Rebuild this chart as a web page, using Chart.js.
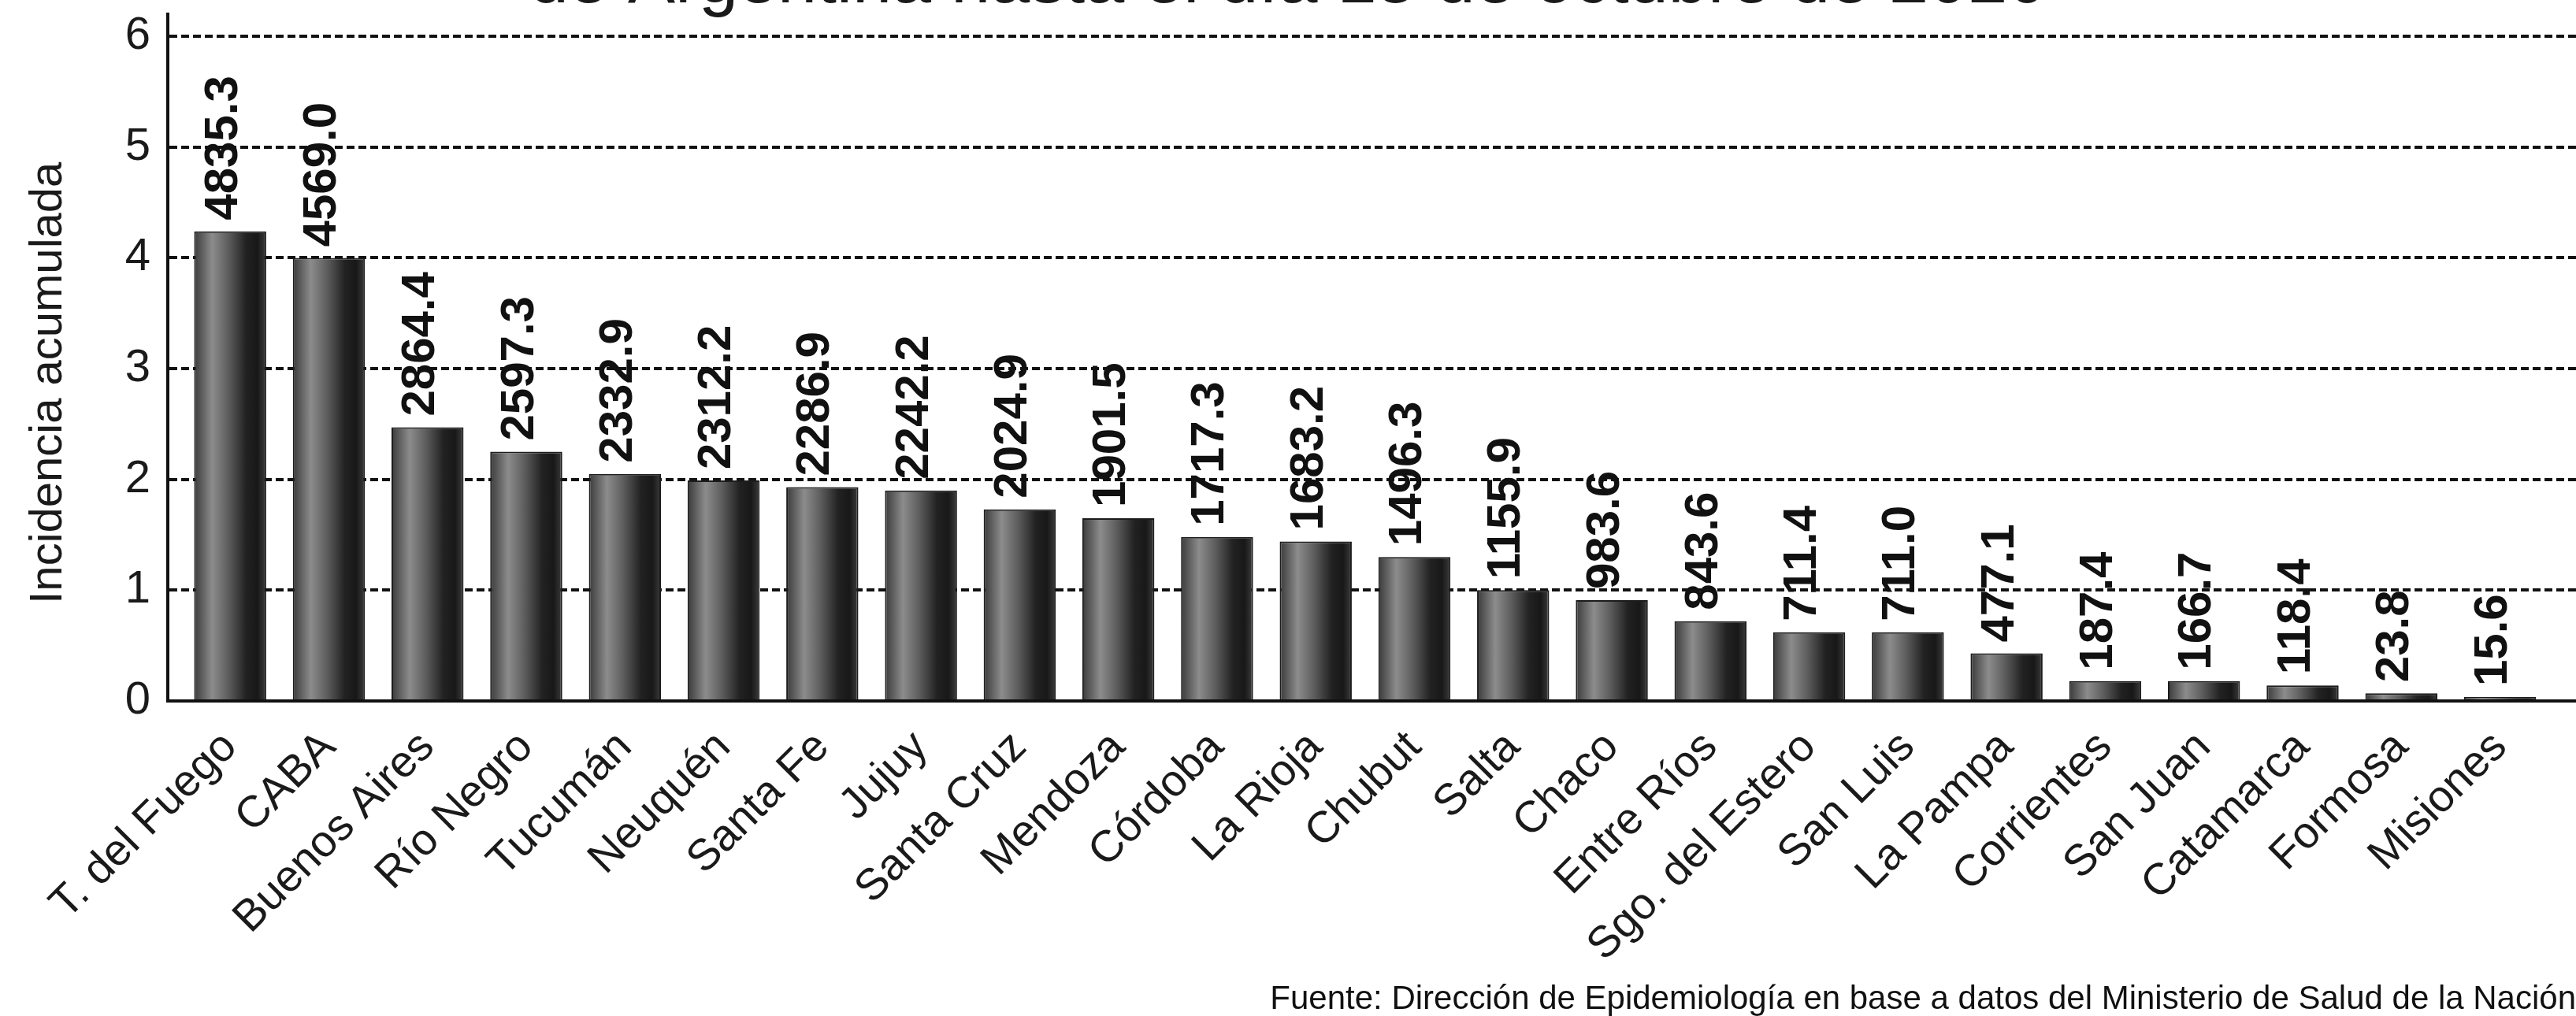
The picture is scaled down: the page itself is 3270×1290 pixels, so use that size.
<!DOCTYPE html>
<html>
<head>
<meta charset="utf-8">
<title>Incidencia acumulada por provincia</title>
<script src="https://cdn.jsdelivr.net/npm/chart.js@4.4.1/dist/chart.umd.min.js"></script>
<style>
  html, body { margin: 0; padding: 0; background: #fff; }
  canvas { display: block; }
</style>
</head>
<body>
<canvas id="js--chart" width="3270" height="1290"></canvas>
<script>
const provincias = [
    "T. del Fuego", "CABA", "Buenos Aires", "Río Negro", "Tucumán", "Neuquén",
    "Santa Fe", "Jujuy", "Santa Cruz", "Mendoza", "Córdoba", "La Rioja",
    "Chubut", "Salta", "Chaco", "Entre Ríos", "Sgo. del Estero", "San Luis",
    "La Pampa", "Corrientes", "San Juan", "Catamarca", "Formosa", "Misiones"
];

// altura de cada barra, leida sobre la escala 0-6 del grafico
const alturas = [
    4.24, 4.0, 2.47, 2.25, 2.05, 1.99,
    1.93, 1.90, 1.73, 1.65, 1.48, 1.44,
    1.30, 1.0, 0.91, 0.72, 0.62, 0.62,
    0.43, 0.18, 0.18, 0.14, 0.07, 0.035
];

// valores escritos sobre las barras
const etiquetas = [
    "4835.3", "4569.0", "2864.4", "2597.3", "2332.9", "2312.2",
    "2286.9", "2242.2", "2024.9", "1901.5", "1717.3", "1683.2",
    "1496.3", "1155.9", "983.6", "843.6", "711.4", "711.0",
    "477.1", "187.4", "166.7", "118.4", "23.8", "15.6"
];

const ticksY = [0, 1, 2, 3, 4, 5, 6];

const titulo = "de Argentina hasta el día 15 de octubre de 2020";
const tituloY = "Incidencia acumulada";
const fuenteTexto = "Fuente: Dirección de Epidemiología en base a datos del Ministerio de Salud de la Nación";

const fuente = '"Liberation Sans", Arial, sans-serif';
Chart.defaults.font.family = fuente;
Chart.defaults.color = '#1a1a1a';

// degradado tipo cilindro para cada barra
function degradado(c) {
    const chart = c.chart;
    const x = chart.scales.x;
    if (!x || c.dataIndex === undefined) {
        return '#444';
    }
    const px = x.getPixelForValue(c.dataIndex);
    const w = (x.getPixelForValue(1) - x.getPixelForValue(0)) * 0.73;
    if (!isFinite(px) || !isFinite(w) || w <= 0) {
        return '#444';
    }
    const g = chart.ctx.createLinearGradient(px - w / 2, 0, px + w / 2, 0);
    g.addColorStop(0, '#3a3a3a');
    g.addColorStop(0.25, '#8c8c8c');
    g.addColorStop(0.48, '#5c5c5c');
    g.addColorStop(0.72, '#222');
    g.addColorStop(0.88, '#181818');
    g.addColorStop(1, '#3c3c3c');
    return g;
}

const etiquetasBarras = {
    id: 'etiquetasBarras',
    afterDatasetsDraw(chart) {
        const ctx = chart.ctx;
        const meta = chart.getDatasetMeta(0);
        ctx.save();
        ctx.font = 'bold 60px ' + fuente;
        ctx.fillStyle = '#111';
        ctx.textAlign = 'left';
        ctx.textBaseline = 'middle';
        meta.data.forEach(function (bar, i) {
            ctx.save();
            ctx.translate(bar.x - 8, bar.y - 14);
            ctx.rotate(-Math.PI / 2);
            ctx.fillText(etiquetas[i], 0, 0);
            ctx.restore();
        });
        ctx.restore();
    }
};

const data = {
    datasets: [{
        data: alturas.map(function (v, i) { return { x: i, y: v }; }),
        backgroundColor: degradado,
        borderColor: '#1c1c1c',
        borderWidth: 2,
        borderSkipped: 'bottom',
        barPercentage: 0.73,
        categoryPercentage: 1
    }]
};

const config = {
    type: 'bar',
    data: data,
    options: {
        responsive: false,
        devicePixelRatio: 1,
        animation: false,
        layout: { padding: 0 },
        plugins: {
            legend: { display: false },
            tooltip: { enabled: false },
            title: {
                display: true,
                text: titulo,
                color: '#1a1a1a',
                font: { size: 90, weight: 'normal' },
                padding: { top: -76, bottom: -14 }
            },
            subtitle: {
                display: true,
                position: 'bottom',
                align: 'end',
                text: fuenteTexto,
                color: '#111',
                font: { size: 42, lineHeight: 1 },
                padding: 0
            }
        },
        scales: {
            x: {
                type: 'linear',
                min: -0.632,
                max: 23.77,
                offset: false,
                grid: { display: false },
                border: { display: true, color: '#111', width: 4 },
                afterBuildTicks: function (s) {
                    s.ticks = provincias.map(function (p, i) { return { value: i }; });
                },
                afterFit: function (s) { s.height = 358; },
                ticks: {
                    autoSkip: false,
                    maxRotation: 45,
                    minRotation: 45,
                    padding: 18,
                    color: '#1a1a1a',
                    font: { size: 56 },
                    callback: function (v) { return provincias[Math.round(v)]; }
                }
            },
            y: {
                min: 0,
                max: 6.2,
                afterBuildTicks: function (s) {
                    s.ticks = ticksY.map(function (v) { return { value: v }; });
                },
                afterFit: function (s) {
                    s.width = 213;
                    s.paddingTop = 0;
                    s.paddingBottom = 0;
                },
                grid: {
                    color: function (c) { return c.tick && c.tick.value === 0 ? 'rgba(0,0,0,0)' : '#111'; },
                    lineWidth: 4,
                    drawTicks: false
                },
                border: { display: true, color: '#111', width: 4, dash: [10, 5] },
                ticks: {
                    padding: 22,
                    color: '#1a1a1a',
                    font: { size: 58 }
                },
                title: {
                    display: true,
                    // espacios al final para bajar un poco el titulo como en el original
                    text: tituloY + '\u00a0\u00a0\u00a0\u00a0',
                    color: '#1a1a1a',
                    font: { size: 58 },
                    padding: { top: 27, bottom: 0 }
                }
            }
        }
    },
    plugins: [etiquetasBarras]
};

new Chart(document.getElementById("js--chart"), config);
</script>
</body>
</html>
